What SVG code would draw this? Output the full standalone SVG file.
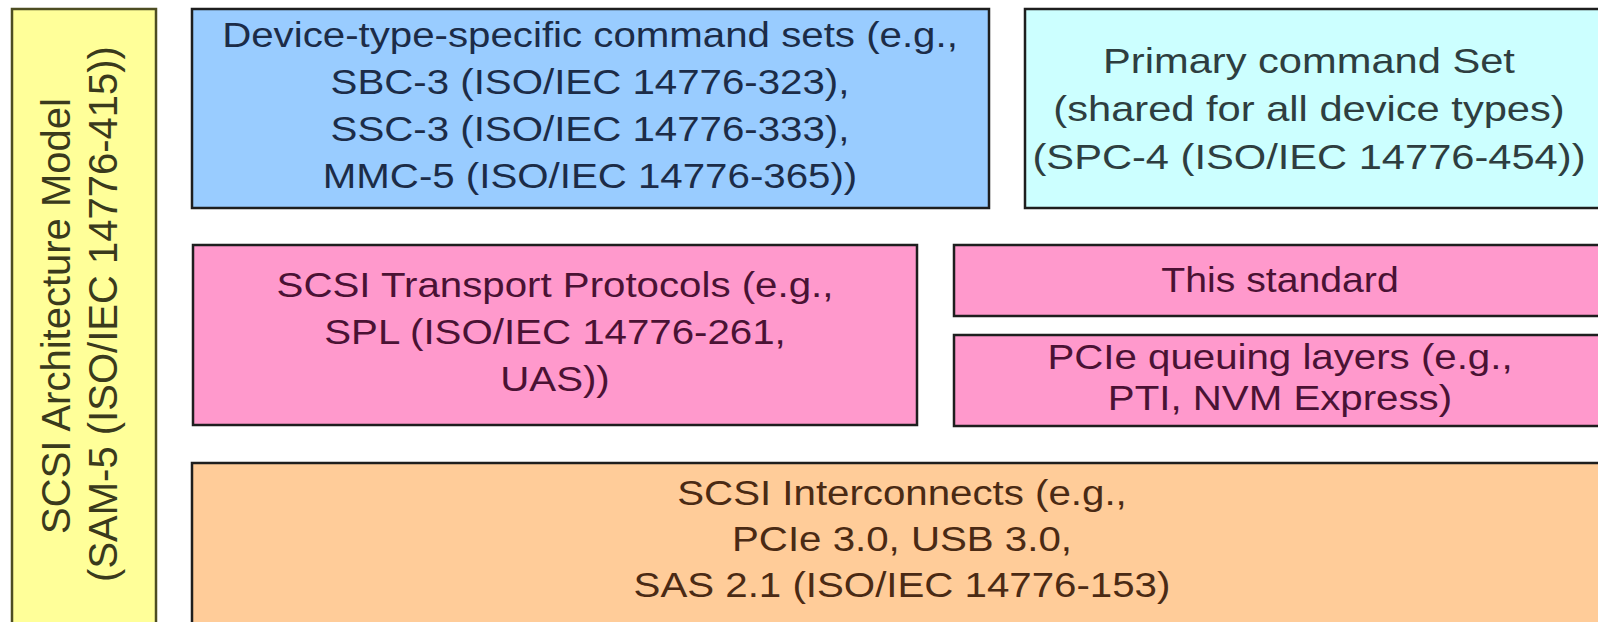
<svg xmlns="http://www.w3.org/2000/svg" width="1598" height="622" viewBox="0 0 1598 622">
<style>
  .box { stroke: #1e1e1e; stroke-width: 2.5; }
  .t { font-family: "Liberation Sans", Arial, sans-serif; font-size: 35px; text-anchor: middle; }
  .r { font-family: "Liberation Sans", Arial, sans-serif; font-size: 40px; text-anchor: middle; fill: #3a3a1c; }
  .blue { fill: #99ccff; }
  .cyan { fill: #ccffff; }
  .pink { fill: #ff99cc; }
  .orange { fill: #ffcc99; }
  .yellow { fill: #ffff99; stroke: #4d4d22; stroke-width: 2.5; }
  .tb { fill: #1c2c48; }
  .tc { fill: #2e3e40; }
  .tp { fill: #4a1234; }
  .to { fill: #4a2a14; }
</style>
<rect width="1598" height="622" fill="#ffffff"/>

<g id="sam5">
  <rect class="yellow" x="12" y="9" width="144" height="640"/>
  <text class="r" transform="translate(70,316) rotate(-90)">SCSI Architecture Model</text>
  <text class="r" transform="translate(117,314) rotate(-90)">(SAM-5 (ISO/IEC 14776-415))</text>
</g>

<g id="device-cmd">
  <rect class="box blue" x="192" y="9" width="797" height="199"/>
  <g class="t tb">
    <text transform="translate(590,47) scale(1.15,1)">Device-type-specific command sets (e.g.,</text>
    <text transform="translate(590,94) scale(1.15,1)">SBC-3 (ISO/IEC 14776-323),</text>
    <text transform="translate(590,141) scale(1.15,1)">SSC-3 (ISO/IEC 14776-333),</text>
    <text transform="translate(590,188) scale(1.15,1)">MMC-5 (ISO/IEC 14776-365))</text>
  </g>
</g>

<g id="primary-cmd">
  <rect class="box cyan" x="1025" y="9" width="600" height="199"/>
  <g class="t tc">
    <text transform="translate(1309,73) scale(1.19,1)">Primary command Set</text>
    <text transform="translate(1309,121) scale(1.19,1)">(shared for all device types)</text>
    <text transform="translate(1309,169) scale(1.19,1)">(SPC-4 (ISO/IEC 14776-454))</text>
  </g>
</g>

<g id="transport">
  <rect class="box pink" x="193" y="245" width="724" height="180"/>
  <g class="t tp">
    <text transform="translate(555,297) scale(1.15,1)">SCSI Transport Protocols (e.g.,</text>
    <text transform="translate(555,344) scale(1.15,1)">SPL (ISO/IEC 14776-261,</text>
    <text transform="translate(555,391) scale(1.15,1)">UAS))</text>
  </g>
</g>

<g id="this-standard">
  <rect class="box pink" x="954" y="245" width="670" height="71"/>
  <text class="t tp" transform="translate(1280,292) scale(1.12,1)">This standard</text>
</g>

<g id="pcie-queuing">
  <rect class="box pink" x="954" y="335" width="670" height="91"/>
  <g class="t tp">
    <text transform="translate(1280,369) scale(1.15,1)">PCIe queuing layers (e.g.,</text>
    <text transform="translate(1280,410) scale(1.15,1)">PTI, NVM Express)</text>
  </g>
</g>

<g id="interconnects">
  <rect class="box orange" x="192" y="463" width="1432" height="200"/>
  <g class="t to">
    <text transform="translate(902,505) scale(1.15,1)">SCSI Interconnects (e.g.,</text>
    <text transform="translate(902,551) scale(1.15,1)">PCIe 3.0, USB 3.0,</text>
    <text transform="translate(902,597) scale(1.15,1)">SAS 2.1 (ISO/IEC 14776-153)</text>
  </g>
</g>

<g id="connectors"></g>
</svg>
